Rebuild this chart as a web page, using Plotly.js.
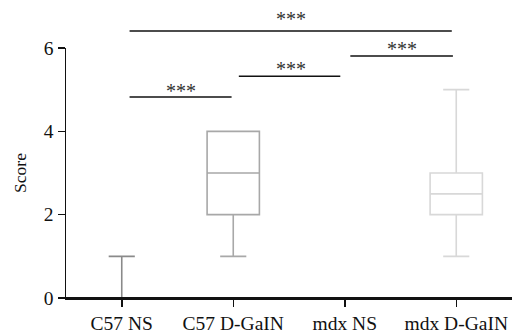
<!DOCTYPE html>
<html>
<head>
<meta charset="utf-8">
<script src="https://cdn.plot.ly/plotly-3.0.1.min.js"></script>
<style>html,body{margin:0;padding:0;background:#fff;}#chart{width:513px;height:334px;}</style>
</head>
<body>
<div id="chart"></div>
<script>
const categories = ["C57 NS", "C57 D-GaIN", "mdx NS", "mdx D-GaIN"];
const lowerWhisker = [0, 1, 0, 1];
const q1Values = [0, 2, 0, 2];
const medianValues = [0, 3, 0, 2.5];
const q3Values = [0, 4, 0, 3];
const upperWhisker = [1, 4, 0, 5];
const boxColors = ["#8a8a8a", "#a8a8a8", "#e0e0e0", "#d8d8d8"];
const yTicks = [0, 2, 4, 6];
// significance comparisons
const comparisons = [
  {from: 0, to: 1, label: "***"},
  {from: 1, to: 2, label: "***"},
  {from: 2, to: 3, label: "***"},
  {from: 0, to: 3, label: "***"}
];

const FONT = "Liberation Serif, Times New Roman, serif";

const traces = categories.map((c, i) => ({
  type: "box",
  x: [c],
  q1: [q1Values[i]],
  median: [medianValues[i]],
  q3: [q3Values[i]],
  lowerfence: [lowerWhisker[i]],
  upperfence: [upperWhisker[i]],
  fillcolor: "rgba(0,0,0,0)",
  line: {color: boxColors[i], width: 1.6},
  whiskerwidth: 0.5,
  boxpoints: false,
  hoverinfo: "skip",
  showlegend: false
}));

// bracket geometry (layout positions)
const bracketY = [0.804, 0.887, 0.968, 1.068];
const bracketX = [[0.07, 0.985], [1.05, 1.96], [2.05, 2.97], [0.07, 2.96]];
const textY = [0.83, 0.915, 0.995, 1.115];
const textX = [0.534, 1.52, 2.51, 1.52];

const shapes = comparisons.map((cmp, i) => ({
  type: "line", xref: "x", yref: "paper",
  x0: bracketX[i][0], x1: bracketX[i][1],
  y0: bracketY[i], y1: bracketY[i],
  line: {color: "#111", width: 1.5}
}));
// x axis baseline drawn above traces
shapes.push({type: "line", xref: "paper", yref: "paper", x0: 0, x1: 1, y0: 0, y1: 0,
  layer: "above", line: {color: "#111", width: 2}});

const annotations = comparisons.map((cmp, i) => ({
  xref: "x", yref: "paper", x: textX[i], y: textY[i],
  text: cmp.label, showarrow: false, yanchor: "middle", xanchor: "center",
  font: {family: FONT, size: 20, color: "#333"}
}));

const layout = {
  width: 513, height: 334,
  margin: {l: 66, r: 1, t: 48, b: 36, pad: 0},
  paper_bgcolor: "#fff", plot_bgcolor: "#fff",
  boxmode: "overlay", boxgap: 0.33,
  font: {family: FONT, size: 19, color: "#111"},
  xaxis: {
    type: "category", categoryorder: "array", categoryarray: categories,
    range: [-0.5, 3.5],
    showline: true, linecolor: "#111", linewidth: 1.5,
    ticks: "outside", ticklen: 7, tickwidth: 1.5, tickcolor: "#111",
    showgrid: false, zeroline: false,
    tickfont: {family: FONT, size: 19.5, color: "#111"}
  },
  yaxis: {
    range: [0, 6], tickvals: yTicks, ticktext: yTicks.map(String),
    showline: true, linecolor: "#111", linewidth: 1.5,
    ticks: "outside", ticklen: 7, tickwidth: 1.5, tickcolor: "#111",
    showgrid: false, zeroline: false,
    tickfont: {family: FONT, size: 19.5, color: "#111"},
    title: {text: "Score", font: {family: FONT, size: 17.5, color: "#111"}, standoff: 12}
  },
  shapes: shapes,
  annotations: annotations
};

Plotly.newPlot("chart", traces, layout, {displayModeBar: false, staticPlot: true});
</script>
</body>
</html>
